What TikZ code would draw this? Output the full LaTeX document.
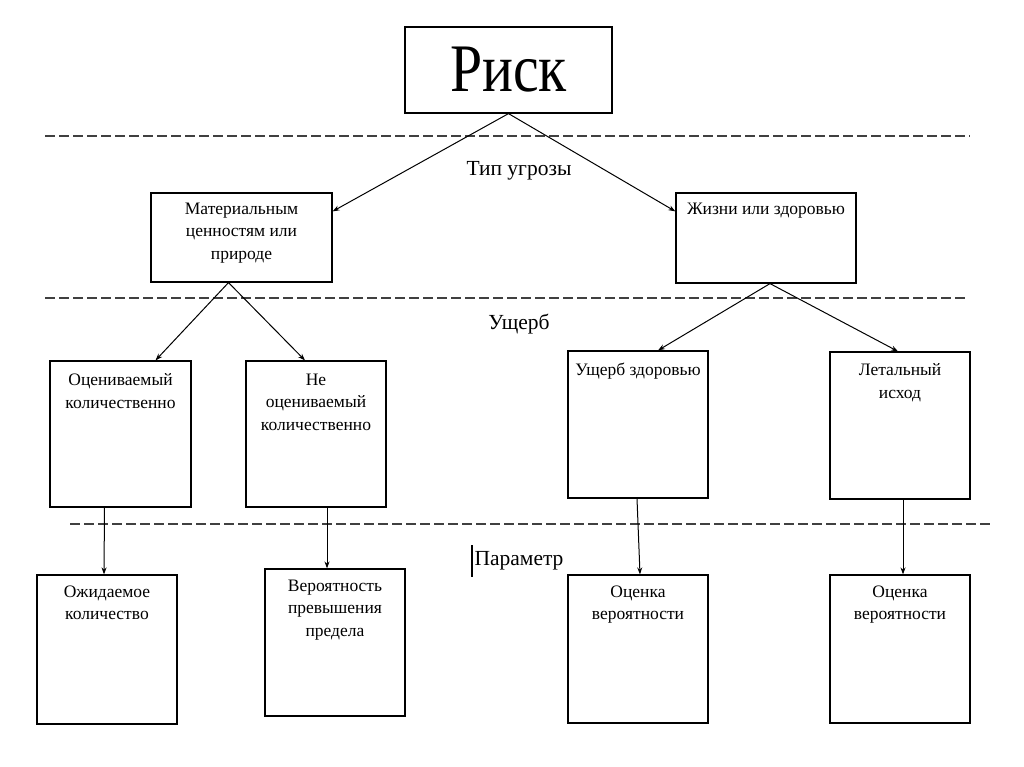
\documentclass[tikz,border=0pt]{standalone}
\usepackage{fontspec}
\usepackage{graphicx}
\setmainfont{Liberation Serif}
\usetikzlibrary{arrows.meta,calc}
\tikzset{>={Stealth[length=7pt,width=5pt]}}
\tikzset{%
    box/.style={draw, line width=1.2pt, inner sep=0pt},
    boxtext/.style={anchor=north, align=center, inner sep=0pt,
        font=\fontsize{17.5}{22.5}\selectfont},
    level/.style={font=\fontsize{21.5}{24}\selectfont},
    sep/.style={dash pattern=on 10pt off 4pt, line width=1.7pt, black!75},
    link/.style={->, line width=1pt}
}

\begin{document}
\begin{tikzpicture}[x=1pt,y=-1pt]
\useasboundingbox (0,0) rectangle (1024,767);

% top
\node[box, minimum width=207, minimum height=86] (risk) at (508.5,70)
    {\scalebox{0.85}[1]{\fontsize{68}{68}\selectfont Риск}};

% threat type
\node[box, minimum width=181, minimum height=89] (mat) at (241.5,237.5) {};
\node[box, minimum width=180, minimum height=90] (life) at (766,238) {};
\node[boxtext] (matt) at ($(mat.north)+(0,10)$) {Материальным\\ценностям или\\природе};
\node[boxtext] (lifet) at ($(life.north)+(0,10)$) {Жизни или здоровью};

% damage
\node[box, minimum width=141, minimum height=146] (est) at (120.5,434) {};
\node[box, minimum width=140, minimum height=146] (nonest) at (316,434) {};
\node[box, minimum width=140, minimum height=147] (health) at (638,424.5) {};
\node[box, minimum width=140, minimum height=147] (lethal) at (900,425.5) {};
\node[boxtext] (estt) at ($(est.north)+(0,13)$) {Оцениваемый\\количественно};
\node[boxtext] (nonestt) at ($(nonest.north)+(0,13)$) {Не\\оцениваемый\\количественно};
\node[boxtext] (healtht) at ($(health.north)+(0,12)$) {Ущерб здоровью};
\node[boxtext] (lethalt) at ($(lethal.north)+(0,12)$) {Летальный\\исход};

% parameter
\node[box, minimum width=140, minimum height=149] (expect) at (107,649.5) {};
\node[box, minimum width=140, minimum height=147] (prob) at (335,642.5) {};
\node[box, minimum width=140, minimum height=148] (rateA) at (638,649) {};
\node[box, minimum width=140, minimum height=148] (rateB) at (900,649) {};
\node[boxtext] (expectt) at ($(expect.north)+(0,11)$) {Ожидаемое\\количество};
\node[boxtext] (probt) at ($(prob.north)+(0,11)$) {Вероятность\\превышения\\предела};
\node[boxtext] (rateAt) at ($(rateA.north)+(0,11)$) {Оценка\\вероятности};
\node[boxtext] (rateBt) at ($(rateB.north)+(0,11)$) {Оценка\\вероятности};

% separators
\draw[sep] (45,136) -- (970,136);
\draw[sep] (45,298) -- (965,298);
\draw[sep] (70,524) -- (990,524);
\node[level] (lvlA) at (519,171) {Тип угрозы};
\node[level] (lvlB) at (519,324) {Ущерб};
\node[level] (lvlC) at (519,561) {Параметр};
\draw[line width=1.2pt] (472,545) -- (472,577);

% arrows
\draw[link] (risk.south) -- ($(mat.north east)+(0,19)$);
\draw[link] (risk.south) -- ($(life.north west)+(0,19)$);
\draw[link] ($(mat.south)+(-13,0)$) -- ($(est.north)+(35,0)$);
\draw[link] ($(mat.south)+(-13,0)$) -- ($(nonest.north)+(-11,0)$);
\draw[link] ($(life.south)+(4,0)$) -- ($(health.north)+(20,0)$);
\draw[link] ($(life.south)+(4,0)$) -- ($(lethal.north)+(-2,0)$);
\draw[link] ($(est.south)+(-16,0)$) -- ($(expect.north)+(-3,0)$);
\draw[link] ($(nonest.south)+(11,0)$) -- ($(prob.north)+(-8,0)$);
\draw[link] ($(health.south)+(-1,0)$) -- ($(rateA.north)+(2,0)$);
\draw[link] ($(lethal.south)+(3,0)$) -- ($(rateB.north)+(3,0)$);
\end{tikzpicture}
\end{document}
